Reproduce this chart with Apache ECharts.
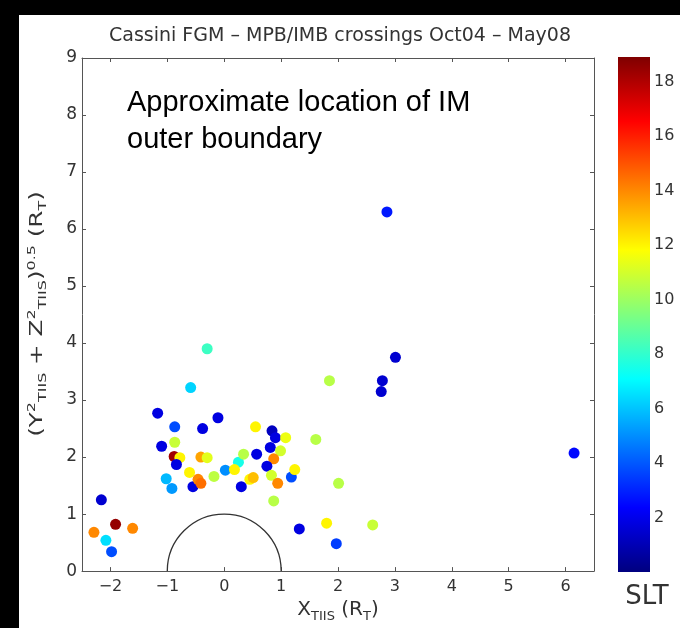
<!DOCTYPE html>
<html>
<head>
<meta charset="utf-8">
<script src="https://cdn.jsdelivr.net/npm/echarts@6/dist/echarts.min.js"></script>
<style>
  html, body { margin:0; padding:0; background:#000; }
  #paper { position:absolute; left:19px; top:15px; width:661px; height:613px; background:#fff; }
  #chart { position:absolute; left:0; top:0; width:680px; height:628px; }
</style>
</head>
<body>
<div id="paper"></div>
<div id="chart"></div>
<script>
// ---- data ----
const xTIIS = [-2.16,-2.29,-1.91,-1.61,-2.08,-1.98,-0.59,-0.30,-1.17,-0.87,-0.38,-0.11,-1.10,-0.87,-0.88,-0.78,-0.84,-1.02,-0.92,-0.55,-0.61,-0.46,-0.41,-0.41,-0.30,-0.18,0.02,0.25,0.34,0.18,0.30,0.45,0.51,0.57,0.55,0.84,0.90,0.81,1.08,0.99,0.87,0.75,0.83,0.94,1.18,1.24,0.87,1.61,1.85,2.01,1.32,1.80,1.97,2.61,2.86,3.01,2.78,2.76,6.15];
const rhoTIIS = [1.25,0.68,0.82,0.75,0.54,0.34,3.22,3.90,2.77,2.53,2.50,2.69,2.19,2.26,2.01,1.99,1.87,1.62,1.45,1.48,1.73,1.61,1.54,2.00,1.99,1.66,1.77,1.91,2.05,1.78,1.48,1.61,1.64,2.05,2.53,2.46,2.34,2.17,2.34,2.11,1.97,1.84,1.68,1.54,1.65,1.78,1.23,2.31,3.34,1.54,0.74,0.84,0.48,0.81,6.30,3.75,3.34,3.15,2.07];
const slt = [1.5,14,18.5,14,6.5,3.8,6.3,8.2,1.8,3.8,1.8,1.8,1.8,10.8,18.3,12,1.8,5.8,5.2,1.8,12,14,14.5,13.5,11.3,10.6,5.0,7.5,10.5,12,1.8,12,13,1.8,12,1.2,1.8,1.8,11.5,11,14,1.8,11,14,3.8,12,10.5,10.5,10.5,10.5,1.8,12,3.5,10.8,2.8,1.5,1.5,1.5,2.5];
const xTickLabels = [-2,-1,0,1,2,3,4,5,6];
const yTickLabels = [0,1,2,3,4,5,6,7,8,9];
const cbarTickLabels = [2,4,6,8,10,12,14,16,18];
const sltRange = [0, 18.9];
const planet = [[0, 0, 1]]; // centre x, centre y, radius (R_T)
const cbarCategory = ['SLT'];
const titleText = 'Cassini FGM \u2013 MPB/IMB crossings Oct04 \u2013 May08';
const noteText = 'Approximate location of IM\nouter boundary';
const yNameText = '{p|(Y}{sup|2}{sub|TIIS}{p| + Z}{sup|2}{sub|TIIS}{p|)}{sup|0.5}{p| (R}{sub|T}{p|)}';
const xNameText = '{p|X}{sub|TIIS}{p| (R}{sub|T}{p|)}';

const jet = ['#00007f','#0000ff','#007fff','#00ffff','#7fff7f','#ffff00','#ff7f00','#ff0000','#7f0000'];
const points = xTIIS.map((x, i) => [x, rhoTIIS[i], slt[i]]);

const AX = '#555', TXT = '#333', FONT = 'DejaVu Sans';
const grid = { left: 82, right: 86, top: 58, bottom: 56 };

const chart = echarts.init(document.getElementById('chart'), null, { renderer: 'canvas' });
chart.setOption({
  backgroundColor: 'transparent',
  animation: false,
  title: {
    text: titleText, left: 'center', top: 22,
    textStyle: { fontFamily: FONT, fontSize: 19, fontWeight: 'normal', color: TXT }
  },
  grid: [
    { left: grid.left, right: grid.right, top: grid.top, bottom: grid.bottom, show: false },
    { left: 618, width: 32, top: 57, height: 515, show: false }
  ],
  xAxis: [
    {
      gridIndex: 0, type: 'value', min: -2.5, max: 6.5, position: 'bottom',
      axisLine: { show: true, onZero: false, lineStyle: { color: AX, width: 1 } },
      axisTick: { show: true, inside: true, length: 4, customValues: xTickLabels, lineStyle: { color: AX } },
      axisLabel: { customValues: xTickLabels, fontFamily: FONT, fontSize: 16, color: TXT, margin: 8,
        formatter: v => (v < 0 ? '\u2212' + Math.abs(v) : String(v)) },
      splitLine: { show: false },
      name: xNameText, nameLocation: 'middle', nameGap: 20,
      nameTextStyle: { fontFamily: FONT, color: TXT,
        rich: { p: { fontFamily: FONT, fontSize: 20, color: TXT, lineHeight: 26 },
                sub: { fontFamily: FONT, fontSize: 13, color: TXT, verticalAlign: 'bottom', lineHeight: 14 } } }
    },
    {
      gridIndex: 0, type: 'value', min: -2.5, max: 6.5, position: 'top',
      axisLine: { show: true, onZero: false, lineStyle: { color: AX, width: 1 } },
      axisTick: { show: true, inside: true, length: 4, customValues: xTickLabels, lineStyle: { color: AX } },
      axisLabel: { show: false }, splitLine: { show: false }
    },
    {
      gridIndex: 1, type: 'category', data: cbarCategory,
      axisLine: { show: false }, axisTick: { show: false },
      axisLabel: { fontFamily: FONT, fontSize: 26, color: TXT, margin: 12, padding: [0, 0, 0, 26] }
    }
  ],
  yAxis: [
    {
      gridIndex: 0, type: 'value', min: 0, max: 9, interval: 1, position: 'left',
      axisLine: { show: true, onZero: false, lineStyle: { color: AX, width: 1 } },
      axisTick: { show: true, inside: true, length: 4, lineStyle: { color: AX } },
      axisLabel: { fontFamily: FONT, fontSize: 17, color: TXT, margin: 5 },
      splitLine: { show: false }
    },
    {
      gridIndex: 0, type: 'value', min: 0, max: 9, interval: 1, position: 'right',
      axisLine: { show: true, onZero: false, lineStyle: { color: AX, width: 1 } },
      axisTick: { show: true, inside: true, length: 4, lineStyle: { color: AX } },
      axisLabel: { show: false }, splitLine: { show: false }
    },
    {
      gridIndex: 1, type: 'value', min: sltRange[0], max: sltRange[1], position: 'right',
      axisLine: { show: false },
      axisTick: { show: true, inside: true, length: 3, customValues: cbarTickLabels, lineStyle: { color: '#333' } },
      axisLabel: { customValues: cbarTickLabels, fontFamily: FONT, fontSize: 16, color: TXT, margin: 4 },
      splitLine: { show: false }
    }
  ],
  visualMap: {
    type: 'continuous', show: false, min: sltRange[0], max: sltRange[1],
    dimension: 2, seriesIndex: 0, inRange: { color: jet }
  },
  series: [
    {
      type: 'scatter', xAxisIndex: 0, yAxisIndex: 0, data: points,
      symbolSize: 11, itemStyle: { opacity: 1 }, z: 3
    },
    {
      type: 'custom', xAxisIndex: 0, yAxisIndex: 0, data: planet, z: 4, silent: true,
      renderItem: function (params, api) {
        const c = api.coord([api.value(0), api.value(1)]);
        const r = api.size([api.value(2), api.value(2)]);
        return {
          type: 'arc',
          shape: { cx: c[0], cy: c[1], r: (r[0] + r[1]) / 2, startAngle: Math.PI, endAngle: 2 * Math.PI, clockwise: true },
          style: { stroke: '#333', lineWidth: 1.3, fill: null }
        };
      }
    },
    {
      type: 'bar', xAxisIndex: 2, yAxisIndex: 2, data: [sltRange[1]], barWidth: '100%', silent: true,
      itemStyle: {
        color: { type: 'linear', x: 0, y: 1, x2: 0, y2: 0,
          colorStops: jet.map((c, i) => ({ offset: i / (jet.length - 1), color: c })) }
      }
    }
  ],
  graphic: [
    {
      type: 'text', left: 127, top: 84, z: 10,
      style: { text: noteText, font: '29px "Liberation Sans", Arial, sans-serif', fill: '#000', lineHeight: 37 }
    },
    {
      type: 'text', x: 38, y: 314, rotation: Math.PI / 2, scaleX: 1.45, z: 10,
      style: {
        text: yNameText, align: 'center', verticalAlign: 'middle',
        textAlign: 'center', textVerticalAlign: 'middle',
        fontFamily: FONT, fontSize: 17, fill: TXT,
        rich: { p: { fontFamily: FONT, fontSize: 17, fill: TXT, lineHeight: 22 },
                sup: { fontFamily: FONT, fontSize: 11, fill: TXT, verticalAlign: 'top', lineHeight: 12 },
                sub: { fontFamily: FONT, fontSize: 11, fill: TXT, verticalAlign: 'bottom', lineHeight: 12 } }
      }
    }
  ]
});
</script>
</body>
</html>
